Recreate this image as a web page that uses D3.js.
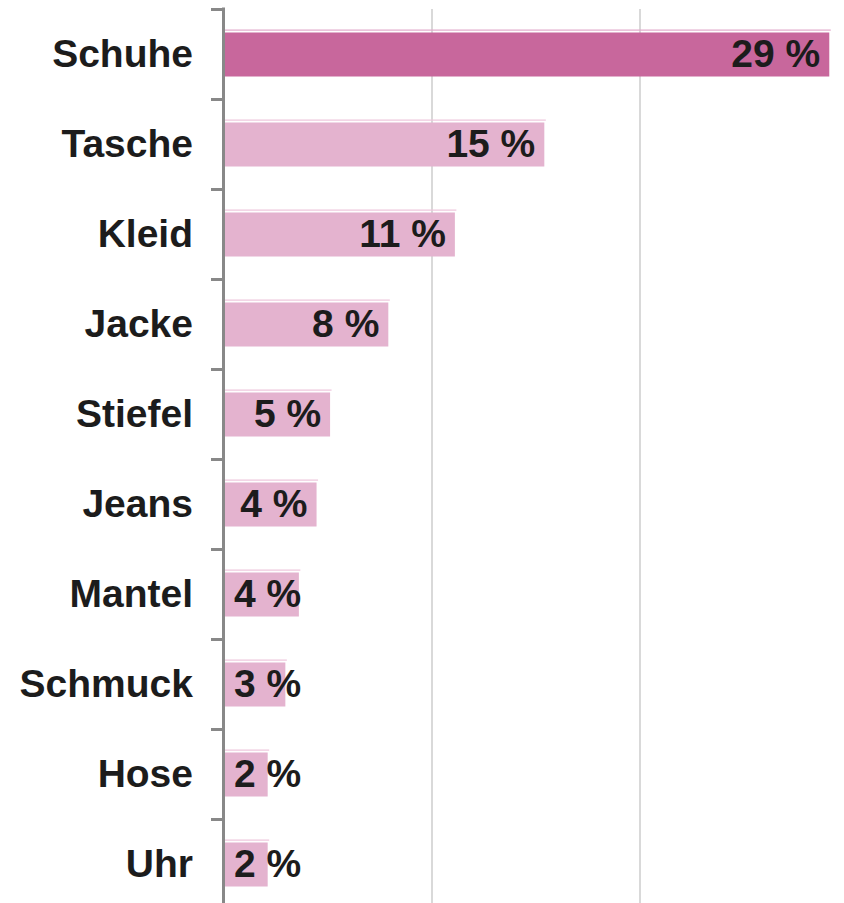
<!DOCTYPE html>
<html>
<head>
<meta charset="utf-8">
<script src="https://cdn.jsdelivr.net/npm/d3@7"></script>
<style>
html,body{margin:0;padding:0;background:#fff;}
svg{display:block;}
</style>
</head>
<body>
<script>
const categories = ["Schuhe","Tasche","Kleid","Jacke","Stiefel","Jeans","Mantel","Schmuck","Hose","Uhr"];
const values = [29.1, 15.4, 11.1, 7.9, 5.1, 4.45, 3.6, 2.95, 2.1, 2.1];
const valueLabels = ["29 %","15 %","11 %","8 %","5 %","4 %","4 %","3 %","2 %","2 %"];
const gridTicks = [10, 20, 30];

const W = 844, H = 903;
const fontFamily = "'Liberation Sans', Arial, Helvetica, sans-serif";
const fs = 39;

const svg = d3.select("body").append("svg").attr("width", W).attr("height", H);

const x = d3.scaleLinear().domain([0, 30]).range([224, 848]);
const y = d3.scaleBand().domain(categories).range([9.5, 909.5]).paddingInner(0.511).paddingOuter(0.2555);

// gridlines
svg.append("g").selectAll("line").data(gridTicks).join("line")
  .attr("x1", d => x(d)).attr("x2", d => x(d))
  .attr("y1", 9).attr("y2", H)
  .attr("stroke", "#d9d9d9").attr("stroke-width", 2);

// bars
const g = svg.append("g");
g.selectAll("rect.top").data(categories).join("rect")
  .attr("class", "top")
  .attr("x", x(0))
  .attr("y", d => y(d) - 3)
  .attr("width", (d, i) => x(values[i]) - x(0) + 1.5)
  .attr("height", 1.2)
  .attr("fill", (d, i) => i === 0 ? "#e2aacb" : "#eec5dc");

g.selectAll("rect.bar").data(categories).join("rect")
  .attr("class", "bar")
  .attr("x", x(0))
  .attr("y", d => y(d))
  .attr("width", (d, i) => x(values[i]) - x(0))
  .attr("height", y.bandwidth())
  .attr("fill", (d, i) => i === 0 ? "#c8679c" : "#e4b3cf");

// value labels
const measure = svg.append("text").attr("font-family", fontFamily).attr("font-size", fs).attr("font-weight", "bold").attr("visibility","hidden");
g.selectAll("text.val").data(categories).join("text")
  .attr("class", "val")
  .attr("font-family", fontFamily)
  .attr("font-size", fs)
  .attr("font-weight", "bold")
  .attr("fill", "#1c1c1c")
  .attr("text-anchor", "end")
  .attr("y", d => y(d) + y.bandwidth() / 2)
  .attr("dy", "0.31em")
  .text((d, i) => valueLabels[i])
  .attr("x", (d, i) => {
    measure.text(valueLabels[i]);
    const w = measure.node().getComputedTextLength();
    return Math.max(x(values[i]) - 9, x(0) + 10 + w);
  });
measure.remove();

// axis
const axis = d3.axisLeft(y).tickSize(0).tickPadding(31);
const ag = svg.append("g").attr("transform", `translate(224,0)`).call(axis);
ag.select(".domain").remove();
ag.selectAll("text")
  .attr("font-family", fontFamily)
  .attr("font-size", fs)
  .attr("font-weight", "bold")
  .attr("fill", "#1c1c1c")
  .attr("dy", "0.31em");

// axis line and boundary ticks
svg.append("line").attr("x1", 223.5).attr("x2", 223.5).attr("y1", 7.5).attr("y2", H)
  .attr("stroke", "#888").attr("stroke-width", 3);
const bounds = d3.range(categories.length + 1).map(i => y.range()[0] + i * y.step());
svg.append("g").selectAll("line").data(bounds).join("line")
  .attr("x1", 211).attr("x2", 224)
  .attr("y1", d => d).attr("y2", d => d)
  .attr("stroke", "#888").attr("stroke-width", 3);
</script>
</body>
</html>
